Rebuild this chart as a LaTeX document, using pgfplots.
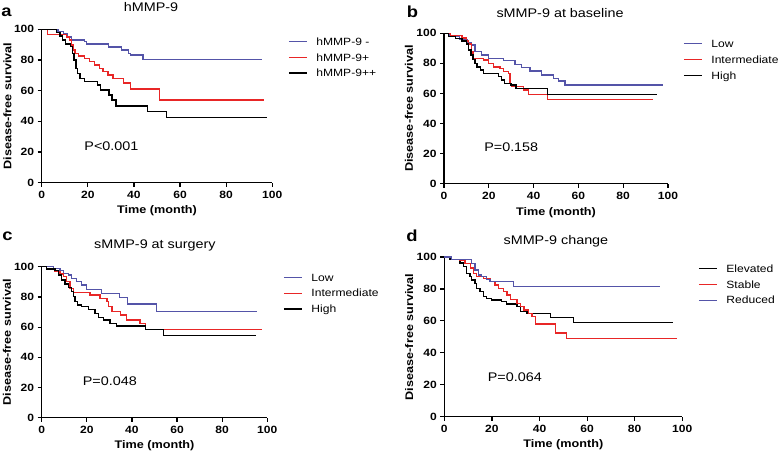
\documentclass[border=0pt]{standalone}
\usepackage{fontspec}
\setmainfont{Liberation Sans}[FakeStretch=1.15]
\usepackage{pgfplots}
\pgfplotsset{compat=1.18}
\definecolor{kmblue}{RGB}{84,84,168}
\definecolor{kmred}{RGB}{232,38,38}
\pgfplotsset{km/.style={
 scale only axis, clip=false,
 xmin=0,xmax=100,ymin=0,ymax=100,
 axis lines=left, axis line style={-, line width=1.3pt},
 xtick={0,20,...,100}, ytick={0,20,...,100},
 tick align=outside, major tick length=4pt,
 every tick/.style={black, line width=1.2pt},
 /pgf/number format/assume math mode=true,
 tick label style={font=\bfseries\fontsize{10.5}{12}\selectfont},
 xticklabel style={yshift=-0.5pt},
 label style={font=\bfseries\fontsize{11}{13}\selectfont},
 xlabel={Time (month)}, ylabel={Disease-free survival},
 legend cell align=left,
 legend style={draw=none, fill=none, anchor=north west, font=\fontsize{10.5}{12}\selectfont, row sep=5.3pt, inner sep=0pt,
   nodes={inner sep=0pt},
   /tikz/every even column/.append style={text height=9pt, text depth=3pt},
   /tikz/every odd column/.append style={column sep=9pt}},
 legend image code/.code={\draw[#1, line width=1.2pt] (0pt,0pt) -- (18pt,0pt);},
 every axis plot/.append style={const plot, line width=1.4pt, mark=none},
}}
\begin{document}
\begin{tikzpicture}
% ---------------- a
\begin{axis}[km, at={(41.7pt,-182.7pt)}, anchor=south west, width=230.6pt, height=153.4pt,
 xlabel style={at={(axis description cs:0.5,-0.183)}, anchor=center},
 ylabel style={at={(axis description cs:-0.149,0.5)}, anchor=center},
 legend style={at={(1.068,0.956)}}]
\addplot[kmblue] coordinates {(0,100)(7,98.5)(9.5,97)(11,95)(13,93)(18.5,92.2)(19.5,90.4)(29,88.5)(34.7,86.5)(37.6,84.4)(38.5,83.2)(44,80.2)(95.5,80.2)};
\addplot[kmred] coordinates {(0,100)(2.4,96.5)(10.8,95)(12,93)(13,89.8)(13.7,86.5)(14.5,84.4)(16,82.6)(18.5,81.1)(20.6,78.9)(22.8,76.7)(25,74.6)(26.5,72.4)(28.7,70.2)(31,67.8)(35.5,65)(38.5,61)(51,54)(96.5,54)};
\addplot[black] coordinates {(0,100)(6.5,97.8)(8,95.6)(9,93)(10.4,90.4)(12.6,88.7)(13.3,84.4)(14,80)(14.8,74.6)(15.5,71.3)(16.6,68)(18.5,65.9)(24.1,63.7)(25.5,60.4)(29.1,57.2)(30.5,53.9)(32.3,50)(45.8,46.3)(54.2,42.4)(97.6,42.4)};
\legend{hMMP-9 -,hMMP-9+,hMMP-9++}
\node[anchor=west, font=\fontsize{12.5}{15}\selectfont] at (axis cs:17,24) {P<0.001};
\node[font=\fontsize{12.5}{15}\selectfont] at (rel axis cs:0.474,1.142) {hMMP-9};
\end{axis}
% ---------------- b
\begin{axis}[km, at={(444pt,-183.7pt)}, anchor=south west, width=224pt, height=150.4pt,
 xlabel style={at={(axis description cs:0.5,-0.19)}, anchor=center},
 ylabel style={at={(axis description cs:-0.156,0.5)}, anchor=center},
 legend style={at={(1.067,0.967)}}]
\addplot[kmblue] coordinates {(0,100)(2.5,98)(7,96)(10.5,93.5)(12.4,92.2)(13.9,87.8)(16.8,85.6)(19.8,83.4)(26.5,81.8)(31.7,79.4)(34.7,77.1)(38.4,74.9)(43.6,72.3)(48.8,70.1)(51.1,68.3)(54.1,65.6)(97.9,65.6)};
\addplot[kmred] coordinates {(0,100)(3,98.5)(8,97)(10,95)(11,93)(12.4,88)(13,83.4)(17.6,82.2)(19.8,79.9)(22,77.7)(25,76.6)(26.5,74.4)(28.7,73.3)(29.5,66.7)(30.2,64.5)(35.4,62.3)(37.6,59.4)(46.1,55.9)(93.5,55.9)};
\addplot[black] coordinates {(0,100)(2,98)(5,96.5)(8,95)(10,93)(11,89)(12,85.5)(13,82.5)(13.9,80)(14.8,77.7)(16.4,75.5)(17.6,73.3)(24.3,71.2)(25.7,68.9)(27,66.7)(29.9,65.6)(32.1,63.2)(46.1,59.4)(95,59.4)};
\legend{Low,Intermediate,High}
\node[anchor=west, font=\fontsize{12.5}{15}\selectfont] at (axis cs:16.4,24.6) {P=0.158};
\node[font=\fontsize{12.5}{15}\selectfont] at (rel axis cs:0.518,1.135) {sMMP-9 at baseline};
\end{axis}
% ---------------- c
\begin{axis}[km, at={(41.7pt,-417.7pt)}, anchor=south west, width=225.6pt, height=151pt,
 xlabel style={at={(axis description cs:0.5,-0.187)}, anchor=center},
 ylabel style={at={(axis description cs:-0.154,0.5)}, anchor=center},
 legend style={at={(1.070,0.965)}}]
\addplot[kmblue] coordinates {(0,100)(5.2,98.9)(8.1,97.4)(9.6,95.6)(11.8,94.5)(13.3,92.3)(15.5,90.1)(17.7,87.9)(19.9,85.1)(26.5,82.4)(34.6,79.7)(37.9,75.3)(50.9,70.2)(95.3,70.2)};
\addplot[kmred] coordinates {(0,100)(2.2,98.5)(5.9,96.7)(8.1,95.1)(9.6,93.4)(11,90.1)(12.5,85.7)(14,82.8)(21.4,81.3)(25.9,79.1)(28.9,76.8)(29.6,73.5)(31.1,70.2)(34.8,68)(37.7,64.7)(43.6,62.5)(45.9,58.5)(97.8,58.5)};
\addplot[black] coordinates {(0,100)(2.2,98.5)(5.9,97.4)(7.4,94.5)(8.9,91.2)(10.3,88.5)(11.8,86.3)(13.3,83.4)(14,80.1)(14.8,76.8)(15.8,74.6)(17.7,73.5)(20.7,71.7)(23.6,69.1)(25.1,66.4)(27.3,64.7)(30.2,62.5)(33.2,60.8)(45.9,58.5)(54,54.5)(94.8,54.5)};
\legend{Low,Intermediate,High}
\node[anchor=west, font=\fontsize{12.5}{15}\selectfont] at (axis cs:16.7,24.5) {P=0.048};
\node[font=\fontsize{12.5}{15}\selectfont] at (rel axis cs:0.502,1.144) {sMMP-9 at surgery};
\end{axis}
% ---------------- d
\begin{axis}[km, at={(444.3pt,-416.7pt)}, anchor=south west, width=238pt, height=159.7pt,
 xlabel style={at={(axis description cs:0.5,-0.177)}, anchor=center},
 ylabel style={at={(axis description cs:-0.148,0.5)}, anchor=center},
 legend style={at={(1.066,0.962)}}]
\addplot[black] coordinates {(0,100)(2.4,98.3)(6.6,96.3)(8,93.9)(9.4,89.8)(10.8,87.7)(11.5,85.6)(12.9,83.5)(13.6,80.3)(15,78.3)(16.4,75.1)(17.8,74.1)(19.9,73)(24.1,72)(26.2,70.5)(30.5,68.9)(31.9,65.7)(34.7,64.7)(44.6,62.2)(54.4,59)(96.2,59)};
\addplot[kmred] coordinates {(0,100)(3,98.5)(6.6,98)(8.7,96)(11,93)(12.2,89.8)(13.6,87.7)(16.4,86.6)(19.2,84.5)(21.3,82.4)(22.7,80.3)(24.8,78.3)(26.3,76.2)(27.7,73.5)(30.5,71)(32,68.9)(33.4,66.8)(35.5,64.7)(36.9,62.6)(38.3,58)(46.7,52.4)(51.4,48.8)(97.6,48.8)};
\addplot[kmblue] coordinates {(0,100)(3,98.5)(11.5,96)(12.9,91.9)(14.3,88.7)(15.7,87.7)(17.8,86)(19.2,84.5)(29,81.5)(90.6,81.5)};
\legend{Elevated,Stable,Reduced}
\node[anchor=west, font=\fontsize{12.5}{15}\selectfont] at (axis cs:16.8,25) {P=0.064};
\node[font=\fontsize{12.5}{15}\selectfont] at (rel axis cs:0.469,1.101) {sMMP-9 change};
\end{axis}
% panel letters
\node[font=\bfseries\fontsize{16}{19}\selectfont] at (6.5pt,-12pt) {a};
\node[font=\bfseries\fontsize{16}{19}\selectfont] at (412.5pt,-12pt) {b};
\node[font=\bfseries\fontsize{16}{19}\selectfont] at (7.5pt,-236pt) {c};
\node[font=\bfseries\fontsize{16}{19}\selectfont] at (412pt,-236pt) {d};
\pgfresetboundingbox
\path (0pt,0pt) rectangle (778pt,-454pt);
\end{tikzpicture}
\end{document}
